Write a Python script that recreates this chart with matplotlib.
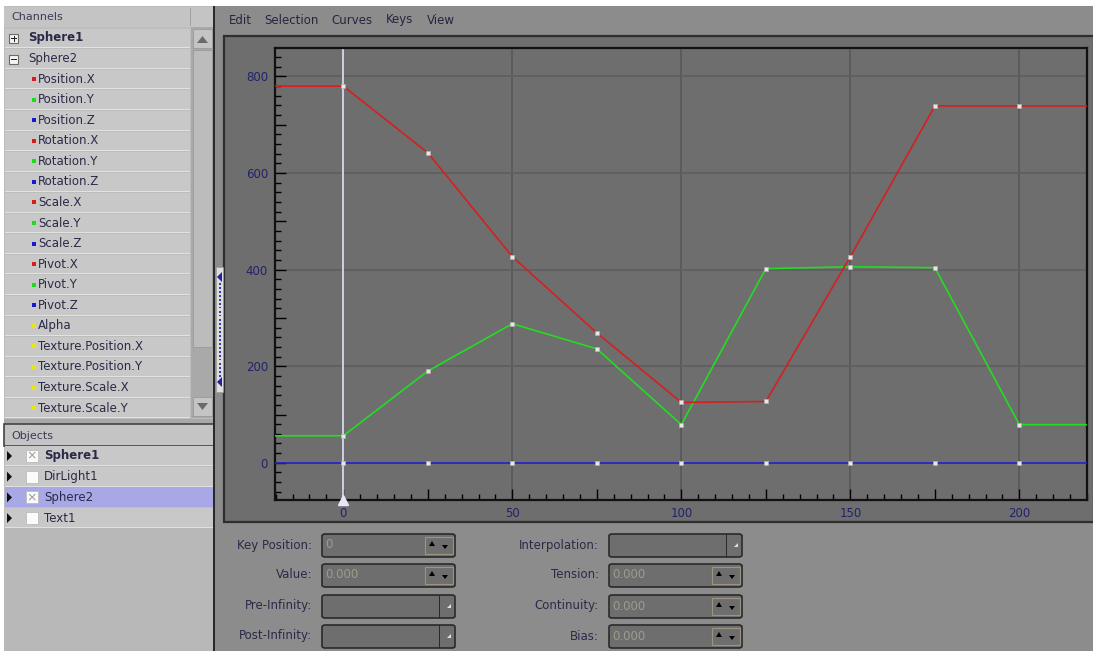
import matplotlib
matplotlib.use("Agg")
import matplotlib.pyplot as plt
from matplotlib.patches import Rectangle, FancyBboxPatch, Polygon
from matplotlib.ticker import MultipleLocator

keys = [0, 25, 50, 75, 100, 125, 150, 175, 200]
red_vals = [780, 642, 427, 269, 125, 127, 427, 739, 739]
green_vals = [56, 190, 288, 236, 79, 402, 406, 404, 79]
blue_vals = [0, 0, 0, 0, 0, 0, 0, 0, 0]

channel_names = ["Sphere1", "Sphere2", "Position.X", "Position.Y", "Position.Z",
                 "Rotation.X", "Rotation.Y", "Rotation.Z", "Scale.X", "Scale.Y",
                 "Scale.Z", "Pivot.X", "Pivot.Y", "Pivot.Z", "Alpha",
                 "Texture.Position.X", "Texture.Position.Y", "Texture.Scale.X",
                 "Texture.Scale.Y"]
channel_colors = [None, None, "red", "green", "blue", "red", "green", "blue",
                  "red", "green", "blue", "red", "green", "blue", "yellow",
                  "yellow", "yellow", "yellow", "yellow"]
object_names = ["Sphere1", "DirLight1", "Sphere2", "Text1"]
object_checked = [True, False, True, False]
menu_items = ["Edit", "Selection", "Curves", "Keys", "View"]
left_fields = ["Key Position:", "Value:", "Pre-Infinity:", "Post-Infinity:"]
left_values = ["0", "0.000", "", ""]
right_fields = ["Interpolation:", "Tension:", "Continuity:", "Bias:"]
right_values = ["", "0.000", "0.000", "0.000"]

W, H = 1093, 651
fig = plt.figure(figsize=(W / 100, H / 100), dpi=100)
fig.patch.set_facecolor("white")
FONT = "DejaVu Sans"
TXT = "#2a2a48"
swatch = {"red": "#e01818", "green": "#18e018", "blue": "#1818d0", "yellow": "#e8e800"}


def rect(x0, y0, x1, y1, fc, ec="none", lw=0):
    fig.patches.append(Rectangle((x0 / W, 1 - y1 / H), (x1 - x0) / W, (y1 - y0) / H,
                                 transform=fig.transFigure, facecolor=fc,
                                 edgecolor=ec, linewidth=lw))


def rbox(x0, y0, x1, y1, fc, ec):
    fig.patches.append(FancyBboxPatch((x0 / W, 1 - y1 / H), (x1 - x0) / W, (y1 - y0) / H,
                                      boxstyle="round,pad=0,rounding_size=0.003",
                                      transform=fig.transFigure, facecolor=fc,
                                      edgecolor=ec, linewidth=1.2))


def txt(x, y, s, **kw):
    kw.setdefault("fontsize", 8.5)
    kw.setdefault("color", TXT)
    kw.setdefault("va", "center")
    fig.text(x / W, 1 - y / H, s, family=FONT, **kw)


def tri(pts, color):
    fig.patches.append(Polygon([(px / W, 1 - py / H) for px, py in pts], closed=True,
                               transform=fig.transFigure, facecolor=color,
                               edgecolor="none"))


# ---- left panel: channels ----
rect(4, 6, 214, 651, "#bdbdbd")
rect(4, 7, 214, 27, "#c4c4c4")
txt(11, 17, "Channels", color="#3a3a55", fontsize=8)
rect(190, 8, 191, 26, "#a0a0a0")
row_h = 20.56
for i, name in enumerate(channel_names):
    yc = 38 + i * row_h
    rect(5, yc - row_h / 2 + 1, 190, yc + row_h / 2, "#c8c8c8")
    rect(5, yc + row_h / 2 - 1, 190, yc + row_h / 2, "#e2e2e2")
    if i < 2:
        rect(9, yc - 4, 18, yc + 5, "#f4f4f4", ec="#6a6a6a", lw=0.8)
        rect(11, yc, 17, yc + 1, "#222222")
        if i == 0:
            rect(13.5, yc - 2.5, 14.5, yc + 3.5, "#222222")
        txt(28, yc, name, fontweight="bold" if i == 0 else "normal")
    else:
        rect(32, yc - 2, 36, yc + 2, swatch[channel_colors[i]])
        txt(38, yc, name)
# scroll bar
rect(191, 27, 214, 418, "#a9a9a9")
rect(193, 29, 212, 48, "#c4c4c4", ec="#9a9a9a", lw=0.6)
tri([(197, 43), (208, 43), (202.5, 36)], "#6a6a6a")
rect(193, 50, 212, 347, "#bcbcbc", ec="#9a9a9a", lw=0.6)
rect(193, 397, 212, 416, "#c4c4c4", ec="#9a9a9a", lw=0.6)
tri([(197, 403), (208, 403), (202.5, 410)], "#6a6a6a")

# ---- left panel: objects ----
rect(4, 419, 214, 424, "#a8a8a8")
rect(4, 424, 214, 446, "#c4c4c4", ec="#444444", lw=1.2)
txt(11, 436, "Objects", color="#3a3a55", fontsize=8)
for i, name in enumerate(object_names):
    yc = 456 + i * 20.7
    bg = "#a8a8e6" if i == 2 else "#c8c8c8"
    rect(5, yc - 10, 213, yc + 10, bg)
    rect(5, yc + 9.3, 213, yc + 10, "#e0e0e0")
    tri([(7, yc - 5), (7, yc + 5), (12, yc)], "#111111")
    rect(26, yc - 6, 38, yc + 6, "#fbfbfb", ec="#bbbbbb", lw=0.6)
    if object_checked[i]:
        txt(32, yc, "×", ha="center", color="#9a9a9a", fontsize=9)
    txt(44, yc, name, fontweight="bold" if i == 0 else "normal")
rect(4, 467 + 3 * 20.7 - 1, 214, 651, "#b8b8b8")

# ---- right side ----
rect(214, 6, 1093, 651, "#8c8c8c")
rect(213, 6, 215, 651, "#2a2a2a")
x_menu = [229, 264, 331, 386, 427]
for x, s in zip(x_menu, menu_items):
    txt(x, 20, s, color="#252540")
rect(224, 36, 1094, 522, "#6e6e6e", ec="#2e2e2e", lw=1.6)
# splitter handle
rect(216, 267, 223, 392, "#dedede", ec="#9a9a9a", lw=0.5)
for yy in range(283, 378, 4):
    rect(219, yy, 220.5, yy + 1.5, "#3a3ab0")
tri([(222, 272), (222, 282), (217, 277)], "#2020a0")
tri([(222, 377), (222, 387), (217, 382)], "#2020a0")

# ---- curve editor ----
ax = fig.add_axes([275 / W, 1 - 500 / H, (1087 - 275) / W, (500 - 48) / H])
ax.set_zorder(5)
ax.set_facecolor("#6e6e6e")
ax.set_xlim(-20.2, 219.6)
ax.set_ylim(-77, 859)
for v in [50, 100, 150, 200]:
    ax.axvline(v, color="#585858", lw=1.2, zorder=1)
for v in [200, 400, 600, 800]:
    ax.axhline(v, color="#5e5e5e", lw=1.2, zorder=1)

# long ticks every 25 / 100 (labels every 50 / 200), short every 5 / 20
ax.set_xticks([-0, 25, 50, 75, 100, 125, 150, 175, 200])
ax.set_xticklabels(["0", "", "50", "", "100", "", "150", "", "200"])
ax.set_xticks([v for v in range(-20, 221, 5) if v % 25], minor=True)
ax.set_yticks([0, 100, 200, 300, 400, 500, 600, 700, 800])
ax.set_yticklabels(["0", "", "200", "", "400", "", "600", "", "800"])
ax.set_yticks([v for v in range(-60, 860, 20) if v % 100], minor=True)
ax.tick_params(which="both", direction="in", color="black", width=1,
               labelcolor="#22226a", labelsize=8.5, pad=5)
ax.tick_params(which="major", length=8)
ax.tick_params(which="minor", length=4)
for label in ax.get_xticklabels() + ax.get_yticklabels():
    label.set_family(FONT)
for s in ax.spines.values():
    s.set_color("#111111")
    s.set_linewidth(1.6)

x_ext = [ax.get_xlim()[0]] + keys + [ax.get_xlim()[1]]
for vals, col in [(blue_vals, "#2222cc"), (green_vals, "#22dd22"), (red_vals, "#d42020")]:
    y_ext = [vals[0]] + vals + [vals[-1]]
    ax.plot(x_ext, y_ext, color=col, lw=1.2, zorder=3)
# time cursor
ax.axvline(0, color="#d4d8f4", lw=1.3, zorder=2)
ax.plot([0], [-77], marker="^", color="#e8e8f4", ms=7, clip_on=False, zorder=5)
for vals in [blue_vals, green_vals, red_vals]:
    ax.plot(keys, vals, ls="none", marker="s", ms=3.2, mfc="#e8e8e8",
            mec="#b0b0b0", mew=0.5, zorder=4)

# ---- key properties panel ----
rows_y = [545, 575, 606, 636]
for i, (lab, val) in enumerate(zip(left_fields, left_values)):
    y = rows_y[i]
    txt(312, y, lab, ha="right")
    rbox(322, y - 11, 455, y + 12, "#6e6e6e", "#2a2a2a")
    if i < 2:
        txt(325, y, val, color="#9c9c8c")
        rect(425, y - 8, 453, y + 9, "#6e6e6e", ec="#9a9480", lw=0.8)
        tri([(429, y + 1), (435, y + 1), (432, y - 4)], "black")
        tri([(442, y), (448, y), (445, y + 4)], "black")
    else:
        rect(439, y - 11, 440.2, y + 12, "#2a2a2a")
        tri([(447, y + 2), (451, y - 2), (451, y + 2)], "#e0e0e0")
for i, (lab, val) in enumerate(zip(right_fields, right_values)):
    y = rows_y[i]
    txt(599, y, lab, ha="right")
    rbox(609, y - 11, 742, y + 12, "#6e6e6e", "#2a2a2a")
    if i > 0:
        txt(612, y, val, color="#9c9c8c")
        rect(712, y - 8, 740, y + 9, "#6e6e6e", ec="#9a9480", lw=0.8)
        tri([(716, y + 1), (722, y + 1), (719, y - 4)], "black")
        tri([(729, y), (735, y), (732, y + 4)], "black")
    else:
        rect(726, y - 11, 727.2, y + 12, "#2a2a2a")
        tri([(734, y + 2), (738, y - 2), (738, y + 2)], "#e0e0e0")

fig.savefig("out.png", dpi=100, facecolor=fig.get_facecolor())
